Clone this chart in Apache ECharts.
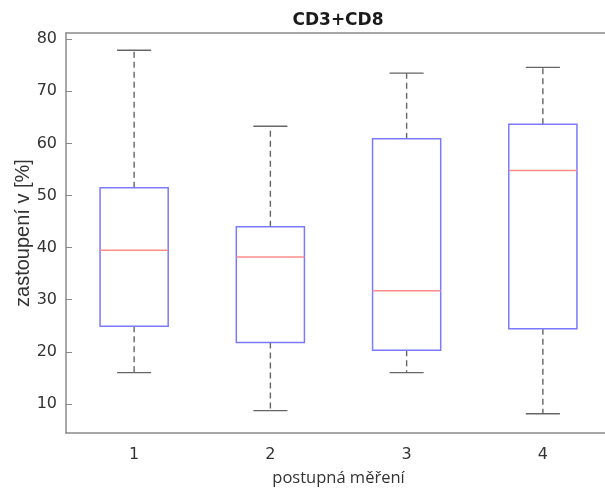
<!DOCTYPE html>
<html>
<head>
<meta charset="utf-8">
<script src="https://cdn.jsdelivr.net/npm/echarts@6/dist/echarts.min.js"></script>
<style>
  html, body { margin: 0; padding: 0; background: #fff; overflow: hidden; }
  #chart { width: 605px; height: 489px; }
</style>
</head>
<body>
<div id="chart"></div>
<script>
// hodnoty (CD3+CD8)
var categories = ['1', '2', '3', '4']
var whiskerLow = [16.0, 8.7, 16.0, 8.1]
var quart1 = [24.9, 21.8, 20.3, 24.4]
var medians = [39.5, 38.2, 31.7, 54.8]
var quart3 = [51.5, 44.0, 60.9, 63.7]
var whiskerHigh = [77.9, 63.3, 73.5, 74.6]
var yTicks = [10, 20, 30, 40, 50, 60, 70, 80]

var boxData = categories.map(function (c, i) {
    return [i, whiskerLow[i], quart1[i], medians[i], quart3[i], whiskerHigh[i]]
})

var axisGray = '#8a8a8a'
var textColor = '#333'

function renderBox(params, api) {
    var idx = api.value(0)
    var band = api.size([1, 0])[0]
    var half = band * 0.25
    var cap = band * 0.125
    var pLow = api.coord([idx, api.value(1)])
    var pQ1 = api.coord([idx, api.value(2)])
    var pMed = api.coord([idx, api.value(3)])
    var pQ3 = api.coord([idx, api.value(4)])
    var pHigh = api.coord([idx, api.value(5)])
    var cx = pMed[0]
    var dash = { stroke: '#666', lineWidth: 1.4, lineDash: [6, 4] }
    var solid = { stroke: '#666', lineWidth: 1.4 }
    return {
        type: 'group',
        children: [
            { type: 'line', shape: { x1: cx, y1: pQ3[1], x2: cx, y2: pHigh[1] }, style: dash },
            { type: 'line', shape: { x1: cx, y1: pQ1[1], x2: cx, y2: pLow[1] }, style: dash },
            { type: 'line', shape: { x1: cx - cap, y1: pHigh[1], x2: cx + cap, y2: pHigh[1] }, style: solid },
            { type: 'line', shape: { x1: cx - cap, y1: pLow[1], x2: cx + cap, y2: pLow[1] }, style: solid },
            {
                type: 'rect',
                shape: { x: cx - half, y: pQ3[1], width: half * 2, height: pQ1[1] - pQ3[1] },
                style: { fill: 'none', stroke: '#7a7aff', lineWidth: 1.5 }
            },
            { type: 'line', shape: { x1: cx - half, y1: pMed[1], x2: cx + half, y2: pMed[1] },
              style: { stroke: '#ff8c8c', lineWidth: 1.5 } }
        ]
    }
}

var myChart = echarts.init(document.getElementById('chart'), null, { renderer: 'canvas' })

myChart.setOption({
    backgroundColor: '#fff',
    animation: false,
    title: {
        text: 'CD3+CD8',
        left: 333,
        textAlign: 'center',
        top: 7,
        textStyle: { fontFamily: 'DejaVu Sans', fontSize: 17, fontWeight: 'bold', color: '#1a1a1a' }
    },
    grid: { left: 66, top: 33, width: 545, height: 400, outerBoundsMode: 'none' },
    xAxis: [{
        type: 'category',
        data: categories,
        position: 'bottom',
        name: 'postupná měření',
        nameLocation: 'middle',
        nameGap: 37,
        nameTextStyle: { fontFamily: 'Open Sans', fontSize: 16.5, color: textColor },
        axisLine: { lineStyle: { color: axisGray, width: 1.5 } },
        axisTick: { inside: true, alignWithLabel: true, length: 6, lineStyle: { color: axisGray } },
        axisLabel: { margin: 14, fontFamily: 'DejaVu Sans', fontSize: 16, color: textColor },
        splitLine: { show: false }
    }, {
        type: 'category',
        data: categories,
        position: 'top',
        axisLine: { lineStyle: { color: axisGray, width: 1.5 } },
        axisTick: { inside: true, alignWithLabel: true, length: 6, lineStyle: { color: axisGray } },
        axisLabel: { show: false },
        splitLine: { show: false }
    }],
    yAxis: [{
        type: 'value',
        min: 4.4,
        max: 81.2,
        name: 'zastoupení v [%]',
        nameLocation: 'middle',
        nameGap: 33,
        nameMoveOverlap: false,
        nameTextStyle: { fontFamily: 'Liberation Sans', fontSize: 20, color: textColor },
        axisLine: { show: true, lineStyle: { color: axisGray, width: 1.5 } },
        axisTick: { show: true, inside: true, length: 6, customValues: yTicks, lineStyle: { color: axisGray } },
        axisLabel: { margin: 9, customValues: yTicks, fontFamily: 'DejaVu Sans', fontSize: 16, color: textColor },
        splitLine: { show: false }
    }, {
        type: 'value',
        min: 4.4,
        max: 81.2,
        position: 'right',
        axisLine: { show: true, lineStyle: { color: axisGray, width: 1.5 } },
        axisTick: { show: true, inside: true, length: 6, customValues: yTicks, lineStyle: { color: axisGray } },
        axisLabel: { show: false },
        splitLine: { show: false }
    }],
    series: [{
        type: 'custom',
        xAxisIndex: 0,
        yAxisIndex: 0,
        renderItem: renderBox,
        encode: { x: 0, y: [1, 2, 3, 4, 5] },
        data: boxData,
        clip: false
    }]
})
</script>
</body>
</html>
